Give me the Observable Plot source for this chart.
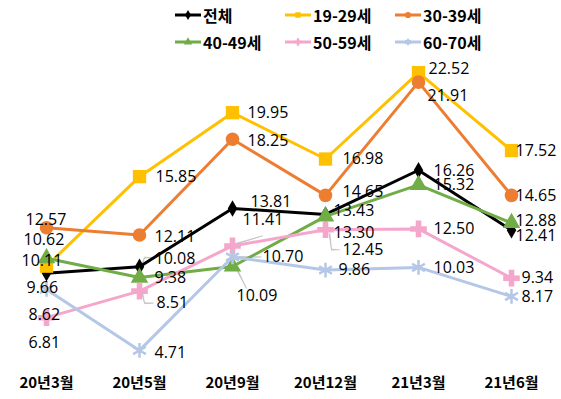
<!DOCTYPE html>
<html><head><meta charset="utf-8">
<script src="https://cdn.jsdelivr.net/npm/d3@7"></script>
<script src="https://cdn.jsdelivr.net/npm/@observablehq/plot@0.6"></script>
<style>
body{margin:0;background:#fff;}
#wrap{width:561px;height:399px;position:relative;overflow:hidden;background:#fff;}
#legend{position:relative;height:45px;font:bold 16px "Noto Sans CJK KR",sans-serif;color:#000;}
.item{position:absolute;display:flex;align-items:center;height:20px;}
.item span{margin-left:2px;}
</style></head><body><div id="wrap"><div id="legend"></div><div id="chart"></div></div>
<script>
// ---- data ----
const categories = ["20년3월","20년5월","20년9월","20년12월","21년3월","21년6월"];
const seriesNames = ["전체","19-29세","30-39세","40-49세","50-59세","60-70세"];
const total    = [9.66, 10.08, 13.81, 13.43, 16.26, 12.41];
const age19_29 = [10.11, 15.85, 19.95, 16.98, 22.52, 17.52];
const age30_39 = [12.57, 12.11, 18.25, 14.65, 21.91, 14.65];
const age40_49 = [10.62, 9.38, 10.09, 13.30, 15.32, 12.88];
const age50_59 = [6.81, 8.51, 11.41, 12.45, 12.50, 9.34];
const age60_70 = [8.62, 4.71, 10.70, 9.86, 10.03, 8.17];

// ---- styles ----
const colors  = ["#000000","#FFC000","#ED7D31","#70AD47","#F4A7CB","#B4C7E7"];
const symbols = ["diamond","square","circle","triangle","cross","asterisk"];
const symR    = [5, 7.5, 6.8, 6.5, 7, 7];
// label offsets [dx, dy] in pixels per series per category
const labelOffsets = [
  [[-20,15],[15,-8],[18,-7],[8,-4],[15,1],[4,6]],
  [[-25,-5],[16,0],[15,0],[17,0],[10,-4],[4,0]],
  [[-21,-8],[15,2],[15,2],[17,-3],[9,14],[4,1]],
  [[-23,-18],[15,0],[4,29],[8,16],[15,0],[4,-2]],
  [[-18,25],[17,12],[10,-26],[17,20],[15,0],[10,0]],
  [[-18,25],[15,2],[30,0],[13,0],[15,0],[10,0]]
];
// leader lines: [series, category, x1, y1, x2, y2] pixel offsets from the point
const leaders = [
  [0,1,3,-3,5,-9],[0,1,5,-9,13,-9],
  [4,1,3,3,5,12],[4,1,5,12,14,12],
  [4,2,3,-2,30,-10],
  [5,2,6,0,29,0],
  [3,2,5,4,14,22],
  [4,3,4,4,6,20],[4,3,6,20,14,20],
  [0,3,4,-2,8,-6]
];

const seriesValues = [total, age19_29, age30_39, age40_49, age50_59, age60_70];
const rows = [];
seriesValues.forEach((vals, i) => vals.forEach((v, j) => rows.push({series: seriesNames[i], si: i, cat: categories[j], cj: j, value: v})));

// ---- legend ----
const legend = document.getElementById("legend");
const lx = [175, 285, 395], ly = [5, 32];
seriesNames.forEach((name, i) => {
  const d = document.createElement("div");
  d.className = "item";
  d.style.left = lx[i % 3] + "px";
  d.style.top = ly[Math.floor(i / 3)] + "px";
  const svg = d3.create("svg").attr("width", 26).attr("height", 20);
  svg.append("line").attr("x1", 0).attr("x2", 26).attr("y1", 10).attr("y2", 10).attr("stroke", colors[i]).attr("stroke-width", 3);
  const typ = {diamond: d3.symbolDiamond, square: d3.symbolSquare, circle: d3.symbolCircle, triangle: d3.symbolTriangle, cross: d3.symbolCross, asterisk: d3.symbolAsterisk}[symbols[i]];
  const p = svg.append("path").attr("transform", "translate(13,10)").attr("d", d3.symbol(typ, 30)());
  if (symbols[i] === "asterisk") p.attr("fill", "none").attr("stroke", colors[i]).attr("stroke-width", 2);
  else p.attr("fill", colors[i]);
  d.appendChild(svg.node());
  const s = document.createElement("span");
  s.textContent = name;
  d.appendChild(s);
  legend.appendChild(d);
});

// ---- chart ----
const marks = [];
leaders.forEach(([si, cj, x1, y1, x2, y2]) => {
  const ddx = x2 - x1, ddy = y2 - y1;
  marks.push(Plot.vector([{cat: categories[cj], value: seriesValues[si][cj]}], {
    x: "cat", y: "value", dx: x1, dy: y1, anchor: "start",
    length: Math.hypot(ddx, ddy), rotate: Math.atan2(ddx, -ddy) * 180 / Math.PI,
    shape: "spike", r: 0.5, stroke: "#BFBFBF", fill: "#BFBFBF", strokeWidth: 0.6
  }));
});
seriesNames.forEach((name, i) => {
  const data = rows.filter(r => r.si === i);
  marks.push(Plot.line(data, {x: "cat", y: "value", stroke: colors[i], strokeWidth: 3}));
  if (symbols[i] === "asterisk") {
    marks.push(Plot.dot(data, {x: "cat", y: "value", symbol: symbols[i], r: symR[i], stroke: colors[i], strokeWidth: 2.5, fill: "none"}));
  } else {
    marks.push(Plot.dot(data, {x: "cat", y: "value", symbol: symbols[i], r: symR[i], fill: colors[i], stroke: "none"}));
  }
});
rows.forEach(r => {
  const [dx, dy] = labelOffsets[r.si][r.cj];
  marks.push(Plot.text([r], {x: "cat", y: "value", text: d => d.value.toFixed(2), dx, dy, textAnchor: "start", lineAnchor: "middle", fill: "#000", fontSize: 16, fontFamily: "'Open Sans', sans-serif"}));
});
marks.push(Plot.axisX({tickSize: 0, tickPadding: 16, fontSize: 15, fontWeight: "bold", fill: "#000", label: null}));

const chart = Plot.plot({
  width: 561,
  height: 354,
  marginTop: 4,
  marginBottom: 38,
  marginLeft: 0,
  marginRight: 0,
  style: {fontFamily: "'Noto Sans CJK KR', sans-serif", background: "#fff", color: "#000"},
  x: {type: "point", domain: categories, range: [-2, 559], padding: 0.5, label: null},
  y: {domain: [4, 24], axis: null},
  marks
});
document.getElementById("chart").appendChild(chart);
</script></body></html>
